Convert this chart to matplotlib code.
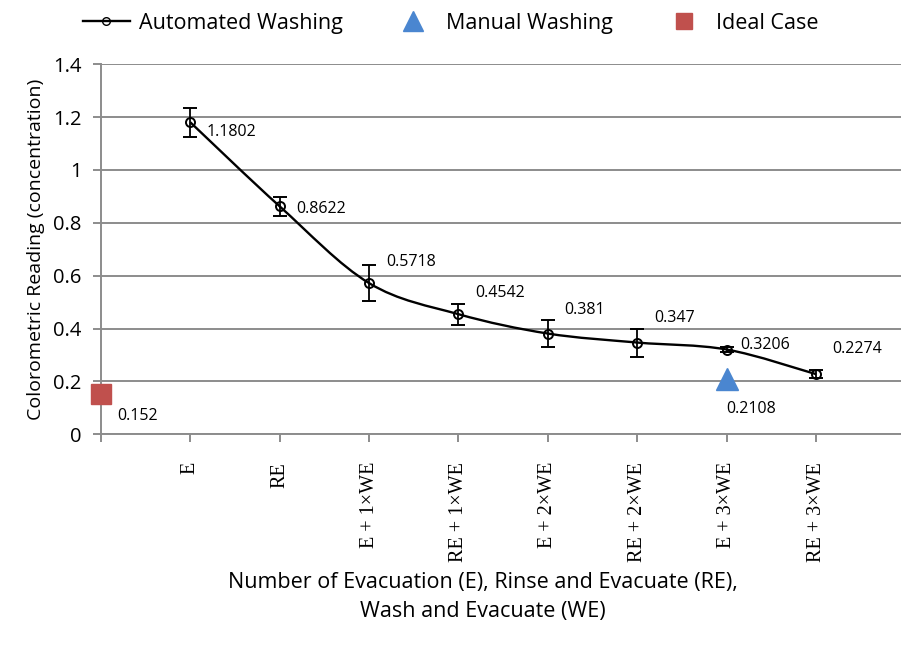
import numpy as np
import matplotlib.pyplot as plt
from matplotlib.path import Path
from matplotlib.patches import PathPatch
from matplotlib.lines import Line2D

categories = ['E', 'RE', 'E + 1×WE', 'RE + 1×WE', 'E + 2×WE', 'RE + 2×WE', 'E + 3×WE', 'RE + 3×WE']
auto_vals = [1.1802, 0.8622, 0.5718, 0.4542, 0.381, 0.347, 0.3206, 0.2274]
auto_err = [0.055, 0.035, 0.068, 0.04, 0.05, 0.053, 0.01, 0.015]
manual_pos = 7
manual_val = 0.2108
ideal_pos = 0
ideal_val = 0.152

plt.rcParams['font.family'] = ['Open Sans', 'DejaVu Sans']

fig = plt.figure(figsize=(9.01, 6.55), dpi=100)
ax = fig.add_axes([0.112, 0.337, 0.888, 0.565])

x = np.arange(1, len(auto_vals) + 1)
y = np.array(auto_vals)

# smoothed line (bezier through the points, like Excel's smoothed line)
verts = [(x[0], y[0])]
codes = [Path.MOVETO]
t = 1 / 6
for i in range(len(x) - 1):
    p0 = (x[max(i - 1, 0)], y[max(i - 1, 0)])
    p1 = (x[i], y[i])
    p2 = (x[i + 1], y[i + 1])
    p3 = (x[min(i + 2, len(x) - 1)], y[min(i + 2, len(x) - 1)])
    c1 = (p1[0] + (p2[0] - p0[0]) * t, p1[1] + (p2[1] - p0[1]) * t)
    c2 = (p2[0] - (p3[0] - p1[0]) * t, p2[1] - (p3[1] - p1[1]) * t)
    verts += [c1, c2, p2]
    codes += [Path.CURVE4] * 3
ax.add_patch(PathPatch(Path(verts, codes), fill=False, edgecolor='black', lw=1.7, zorder=3))

ax.errorbar(x, y, yerr=auto_err, fmt='o', mfc='none', mec='black', mew=1.4, ms=6.5,
            ecolor='black', elinewidth=1.3, capsize=5, capthick=1.3, zorder=4)
ax.plot(manual_pos, manual_val, marker='^', color='#4a86d0', ms=16, ls='none', zorder=5, clip_on=False)
ax.plot(ideal_pos, ideal_val, marker='s', color='#c0504d', ms=14, ls='none', zorder=5, clip_on=False)

# data labels
offsets = [(12, -7), (12, -2), (12, 15), (12, 15), (12, 17), (12, 18), (10, 3), (12, 18)]
for xi, yi, off in zip(x, y, offsets):
    ax.annotate(f'{yi:g}', (xi, yi), xytext=off, textcoords='offset points',
                fontsize=11.5, va='center', ha='left')
ax.annotate(f'{manual_val:g}', (manual_pos, manual_val), xytext=(0, -22), textcoords='offset points',
            fontsize=11.5, va='center', ha='left')
ax.annotate(f'{ideal_val:g}', (ideal_pos, ideal_val), xytext=(12, -16), textcoords='offset points',
            fontsize=11.5, va='center', ha='left')

ax.set_xlim(0, 8.95)
ax.set_ylim(0, 1.4)
ax.set_yticks(np.arange(0, 1.41, 0.2))
ax.set_yticklabels(['0', '0.2', '0.4', '0.6', '0.8', '1', '1.2', '1.4'], fontsize=14.5)
ax.set_xticks(np.arange(0, len(categories) + 1))
ax.set_xticklabels([''] + categories, rotation=90, fontsize=14.5, family='Liberation Serif')
ax.grid(axis='y', color='#8c8c8c', lw=1.4)
ax.set_axisbelow(True)
for s in ['top', 'right']:
    ax.spines[s].set_visible(False)
for s in ['left', 'bottom']:
    ax.spines[s].set_color('#8c8c8c')
    ax.spines[s].set_linewidth(1.4)
ax.tick_params(axis='both', color='#8c8c8c', length=6, width=1.4)
ax.tick_params(axis='x', pad=14)
ax.tick_params(axis='y', pad=8)

ax.set_ylabel('Colorometric Reading (concentration)', fontsize=14, labelpad=6)
fig.text(0.536, 0.088, 'Number of Evacuation (E), Rinse and Evacuate (RE),\nWash and Evacuate (WE)',
         ha='center', va='center', fontsize=15.5, linespacing=1.5)

handles = [
    Line2D([], [], color='black', lw=1.7, marker='o', mfc='none', mec='black', ms=5.5),
    Line2D([], [], color='#4a86d0', marker='^', ls='none', ms=14),
    Line2D([], [], color='#c0504d', marker='s', ls='none', ms=12),
]
fig.legend(handles, ['Automated Washing', 'Manual Washing', 'Ideal Case'], loc='upper center',
           bbox_to_anchor=(0.5, 1.01), ncol=3, frameon=False, fontsize=15.5, columnspacing=2.2,
           handlelength=2.2, handletextpad=0.4)

fig.savefig('out.png', dpi=100)
